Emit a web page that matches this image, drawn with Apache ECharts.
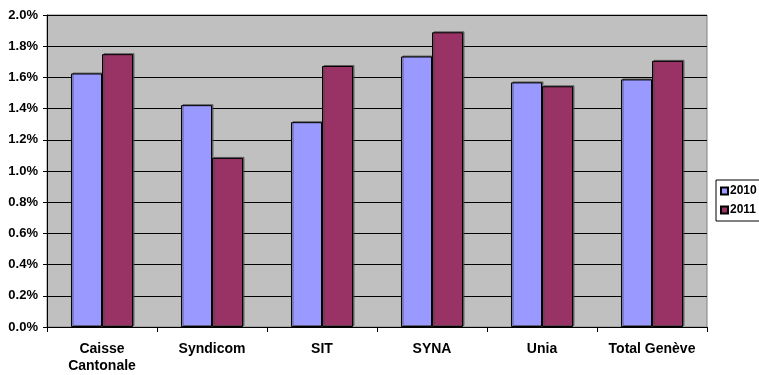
<!DOCTYPE html>
<html>
<head>
<meta charset="utf-8">
<script src="https://cdn.jsdelivr.net/npm/echarts@6/dist/echarts.min.js"></script>
<style>html,body{margin:0;padding:0;background:#fff}#c{width:759px;height:375px}</style>
</head>
<body>
<div id="c"></div>
<script>
const categories = ['Caisse\nCantonale', 'Syndicom', 'SIT', 'SYNA', 'Unia', 'Total Genève'];
const seriesNames = ['2010', '2011'];
const values2010 = [1.625, 1.422, 1.313, 1.734, 1.568, 1.587];
const values2011 = [1.749, 1.084, 1.673, 1.889, 1.543, 1.706];
const yTicks = { min: 0, max: 2.0, interval: 0.2 };

const chart = echarts.init(document.getElementById('c'), null, { renderer: 'canvas' });
const font = 'Arial, "Liberation Sans", sans-serif';
const barStyle = (color) => ({
  color: color,
  borderColor: '#000',
  borderWidth: 1,
  shadowColor: 'rgba(70,70,70,0.7)',
  shadowOffsetX: 1.5,
  shadowOffsetY: -1,
  shadowBlur: 0
});
chart.setOption({
  animation: false,
  grid: {
    left: 47, top: 15, right: 52, bottom: 46,
    show: true, backgroundColor: '#C0C0C0', borderColor: '#808080', borderWidth: 1,
    containLabel: false
  },
  legend: {
    orient: 'vertical',
    left: 716, top: 180,
    data: seriesNames,
    icon: 'rect',
    itemWidth: 7, itemHeight: 7, itemGap: 7,
    padding: [5, 4, 5, 4],
    borderColor: '#000', borderWidth: 1,
    textStyle: { fontFamily: font, fontWeight: 'bold', fontSize: 12, color: '#000', padding: [0, 0, 0, -3] }
  },
  xAxis: {
    type: 'category',
    data: categories,
    axisLine: { show: true, lineStyle: { color: '#000', width: 1 } },
    axisTick: { show: true, interval: 0, length: 5, inside: false, lineStyle: { color: '#000' } },
    axisLabel: { interval: 0, fontFamily: font, fontWeight: 'bold', fontSize: 14, color: '#000', margin: 14, lineHeight: 17 },
    splitLine: { show: false }
  },
  yAxis: {
    type: 'value',
    min: yTicks.min, max: yTicks.max, interval: yTicks.interval,
    axisLine: { show: true, lineStyle: { color: '#000', width: 1 } },
    axisTick: { show: true, length: 4, lineStyle: { color: '#000' } },
    axisLabel: { fontFamily: font, fontWeight: 'bold', fontSize: 13, color: '#000', margin: 9,
      formatter: v => v.toFixed(1) + '%' },
    splitLine: { show: true, lineStyle: { color: '#000', width: 1 } }
  },
  series: [
    { name: seriesNames[0], type: 'bar', data: values2010, barGap: '0%', barCategoryGap: '43.6%', itemStyle: barStyle('#9999FF') },
    { name: seriesNames[1], type: 'bar', data: values2011, barGap: '0%', barCategoryGap: '43.6%', itemStyle: barStyle('#993366') }
  ]
});
</script>
</body>
</html>
